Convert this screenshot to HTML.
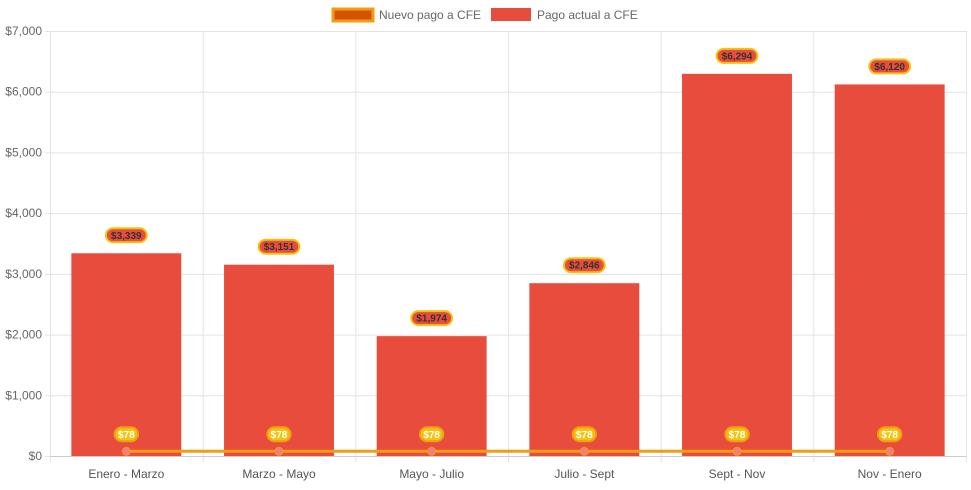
<!DOCTYPE html>
<html><head><meta charset="utf-8"><style>
body{margin:0;background:#fff;font-family:"Liberation Sans",Arial,sans-serif}
svg text{font-family:"Liberation Sans",Arial,sans-serif}
</style></head><body>
<svg id="c" width="971" height="485"></svg>
<script>
const categories=["Enero - Marzo","Marzo - Mayo","Mayo - Julio","Julio - Sept","Sept - Nov","Nov - Enero"];
const actualValues=[3339,3151,1974,2846,6294,6120];
const newValues=[78,78,78,78,78,78];
const yTicks=[0,1000,2000,3000,4000,5000,6000,7000];
const L=50,R=966,T=31,B=456,YMAX=7000;
const bw=(R-L)/categories.length;
const x=i=>L+bw*(i+0.5);
const y=v=>B-v/YMAX*(B-T);
const fmt=v=>"$"+v.toLocaleString("en-US");
const s=document.getElementById('c');const NS="http://www.w3.org/2000/svg";
function el(t,a,txt){const e=document.createElementNS(NS,t);for(const k in a)e.setAttribute(k,a[k]);if(txt!=null)e.textContent=txt;s.appendChild(e);return e;}
yTicks.forEach(v=>{
 const g=el('line',{x1:L-5,x2:R,y1:y(v)+.5,y2:y(v)+.5,stroke:'#e3e3e3'});
 
 
 const t=el('text',{x:L-8,y:y(v)+4,'text-anchor':'end','font-size':12,fill:'#666'},"$"+v.toLocaleString("en-US"));
 
 
});
for(let i=0;i<=categories.length;i++){
 const g=el('line',{x1:L+bw*i+.5,x2:L+bw*i+.5,y1:T,y2:B+6,stroke:'#e3e3e3'});
 
 
}
function badge(cx,cy,txt,fill,stroke,color){
 const w=txt.length*5.8+6;
 const r=el('rect',{x:cx-w/2,y:cy-7,width:w,height:14,rx:7,fill:fill,stroke:stroke,'stroke-width':2});
 
 
 const t=el('text',{x:cx,y:cy+3.5,'text-anchor':'middle','font-size':10,'font-weight':'bold',fill:color},txt);
 
 
}
categories.forEach((c,i)=>{
 const bwid=bw*0.72;
 const b=el('rect',{x:x(i)-bwid/2,y:y(actualValues[i]),width:bwid,height:B-y(actualValues[i]),fill:'#e74c3c'});
 
 
 badge(x(i),y(actualValues[i])-18,fmt(actualValues[i]),'#e74c3c','#f1c40f','#333');
 const t=el('text',{x:x(i),y:B+22,'text-anchor':'middle','font-size':12,fill:'#555'},c);
 
 
});
const ax=el('line',{x1:L,x2:R,y1:B+.5,y2:B+.5,stroke:'#ccc'});


const ln=el('polyline',{points:newValues.map((v,i)=>x(i)+','+y(v)).join(' '),fill:'none',stroke:'#f39c12','stroke-width':3});


newValues.forEach((v,i)=>{
 const p=el('circle',{cx:x(i),cy:y(v),r:4,fill:'#f08080',stroke:'#f39c12','stroke-width':1});
 
 
 badge(x(i),y(v)-17,fmt(v),'#f1c40f','#f39c12','#fff');
});
// legend
const l1=el('rect',{x:333,y:9,width:40,height:12,fill:'#d35400',stroke:'#f39c12','stroke-width':3});


const lt1=el('text',{x:379,y:19,'font-size':12,fill:'#666'},'Nuevo pago a CFE');


const l2=el('rect',{x:491,y:8,width:40,height:13,fill:'#e74c3c'});


const lt2=el('text',{x:537,y:19,'font-size':12,fill:'#666'},'Pago actual a CFE');


</script>
</body></html>
